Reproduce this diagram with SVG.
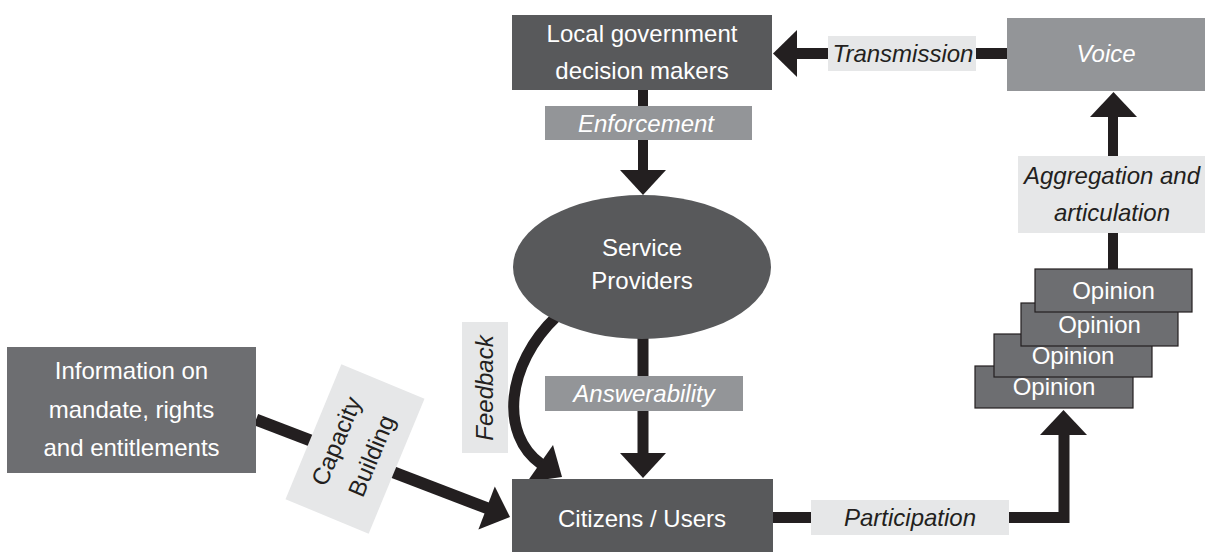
<svg xmlns="http://www.w3.org/2000/svg" width="1205" height="552" viewBox="0 0 1205 552">
<style>
.t{font-family:"Liberation Sans",Arial,sans-serif;font-size:24px;text-anchor:middle}
.w{fill:#ffffff}
.k{fill:#231f20}
.i{font-style:italic}
.dark{fill:#58595b}
.mid{fill:#6d6e71}
.op{fill:#6d6e71;stroke:#231f20;stroke-width:1.2}
.grey{fill:#939598}
.light{fill:#e6e7e8}
.ln{stroke:#231f20;fill:none}
.ah{fill:#231f20}
</style>
<rect width="1205" height="552" fill="#ffffff"/>
<g id="connectors">
  <!-- Transmission -->
  <line class="ln" x1="796" y1="53.5" x2="1008" y2="53.5" stroke-width="11"/>
  <polygon class="ah" points="773,53.5 797,30 797,77"/>
  <rect class="light" x="828" y="36" width="148" height="35"/>
  <text class="t k i" x="903" y="62">Transmission</text>
  <!-- Enforcement -->
  <line class="ln" x1="643" y1="90" x2="643" y2="172" stroke-width="10"/>
  <polygon class="ah" points="620,170 666,170 643,195"/>
  <rect class="grey" x="545" y="106" width="207" height="34"/>
  <text class="t w i" x="646" y="132">Enforcement</text>
  <!-- Answerability -->
  <line class="ln" x1="643" y1="330" x2="643" y2="455" stroke-width="11"/>
  <polygon class="ah" points="620,453 666,453 643,478"/>
  <rect class="grey" x="545" y="376" width="198" height="35"/>
  <text class="t w i" x="644" y="402">Answerability</text>
  <!-- Feedback -->
  <path class="ln" d="M557,316 C505,365 500,435 541,464" stroke-width="11"/>
  <polygon class="ah" points="553,445 527,482 562,477"/>
  <rect class="light" x="462" y="322" width="46" height="131"/>
  <text class="t k i" transform="translate(493,388) rotate(-90)" x="0" y="0">Feedback</text>
  <!-- Capacity Building -->
  <line class="ln" x1="256" y1="419.5" x2="488" y2="508.5" stroke-width="12"/>
  <polygon class="ah" points="510,517 494.8,486.5 478.4,529.5"/>
  <g transform="translate(355,449) rotate(-67.5)">
    <rect class="light" x="-73" y="-45" width="146" height="90"/>
    <text class="t k" x="0" y="-12">Capacity</text>
    <text class="t k" x="0" y="26">Building</text>
  </g>
  <!-- Participation -->
  <polyline class="ln" points="772,517.5 1064,517.5 1064,433" stroke-width="11" stroke-linejoin="miter"/>
  <polygon class="ah" points="1040,435 1087,435 1063.5,410"/>
  <rect class="light" x="811" y="500" width="198" height="35"/>
  <text class="t k i" x="910" y="526">Participation</text>
  <!-- Aggregation and articulation -->
  <line class="ln" x1="1113" y1="115" x2="1113" y2="270" stroke-width="10"/>
  <polygon class="ah" points="1090,117 1137,117 1113.5,92"/>
  <rect class="light" x="1018" y="156" width="187" height="77"/>
  <text class="t k i" x="1112" y="184">Aggregation and</text>
  <text class="t k i" x="1112" y="221">articulation</text>
</g>
<g id="node-local-government">
  <rect class="dark" x="512" y="15" width="260" height="75"/>
  <text class="t w" x="642" y="42">Local government</text>
  <text class="t w" x="642" y="79">decision makers</text>
</g>
<g id="node-voice">
  <rect class="grey" x="1007" y="18" width="198" height="73"/>
  <text class="t w i" x="1106" y="62">Voice</text>
</g>
<g id="node-service-providers">
  <ellipse class="dark" cx="642" cy="267" rx="129" ry="72"/>
  <text class="t w" x="642" y="256">Service</text>
  <text class="t w" x="642" y="289">Providers</text>
</g>
<g id="node-information">
  <rect class="mid" x="7" y="347" width="249" height="126"/>
  <text class="t w" x="131.5" y="379">Information on</text>
  <text class="t w" x="131.5" y="418">mandate, rights</text>
  <text class="t w" x="131.5" y="456">and entitlements</text>
</g>
<g id="node-citizens">
  <rect class="dark" x="512" y="479" width="261" height="73"/>
  <text class="t w" x="642" y="527">Citizens / Users</text>
</g>
<g id="node-opinion-4">
  <rect class="op" x="975" y="366" width="158" height="42"/>
  <text class="t w" x="1054" y="395">Opinion</text>
</g>
<g id="node-opinion-3">
  <rect class="op" x="994" y="334" width="158" height="43"/>
  <text class="t w" x="1073" y="363.5">Opinion</text>
</g>
<g id="node-opinion-2">
  <rect class="op" x="1021" y="303" width="157" height="43"/>
  <text class="t w" x="1099.5" y="332.5">Opinion</text>
</g>
<g id="node-opinion-1">
  <rect class="op" x="1035" y="269" width="157" height="43"/>
  <text class="t w" x="1113.5" y="298.5">Opinion</text>
</g>
</svg>
